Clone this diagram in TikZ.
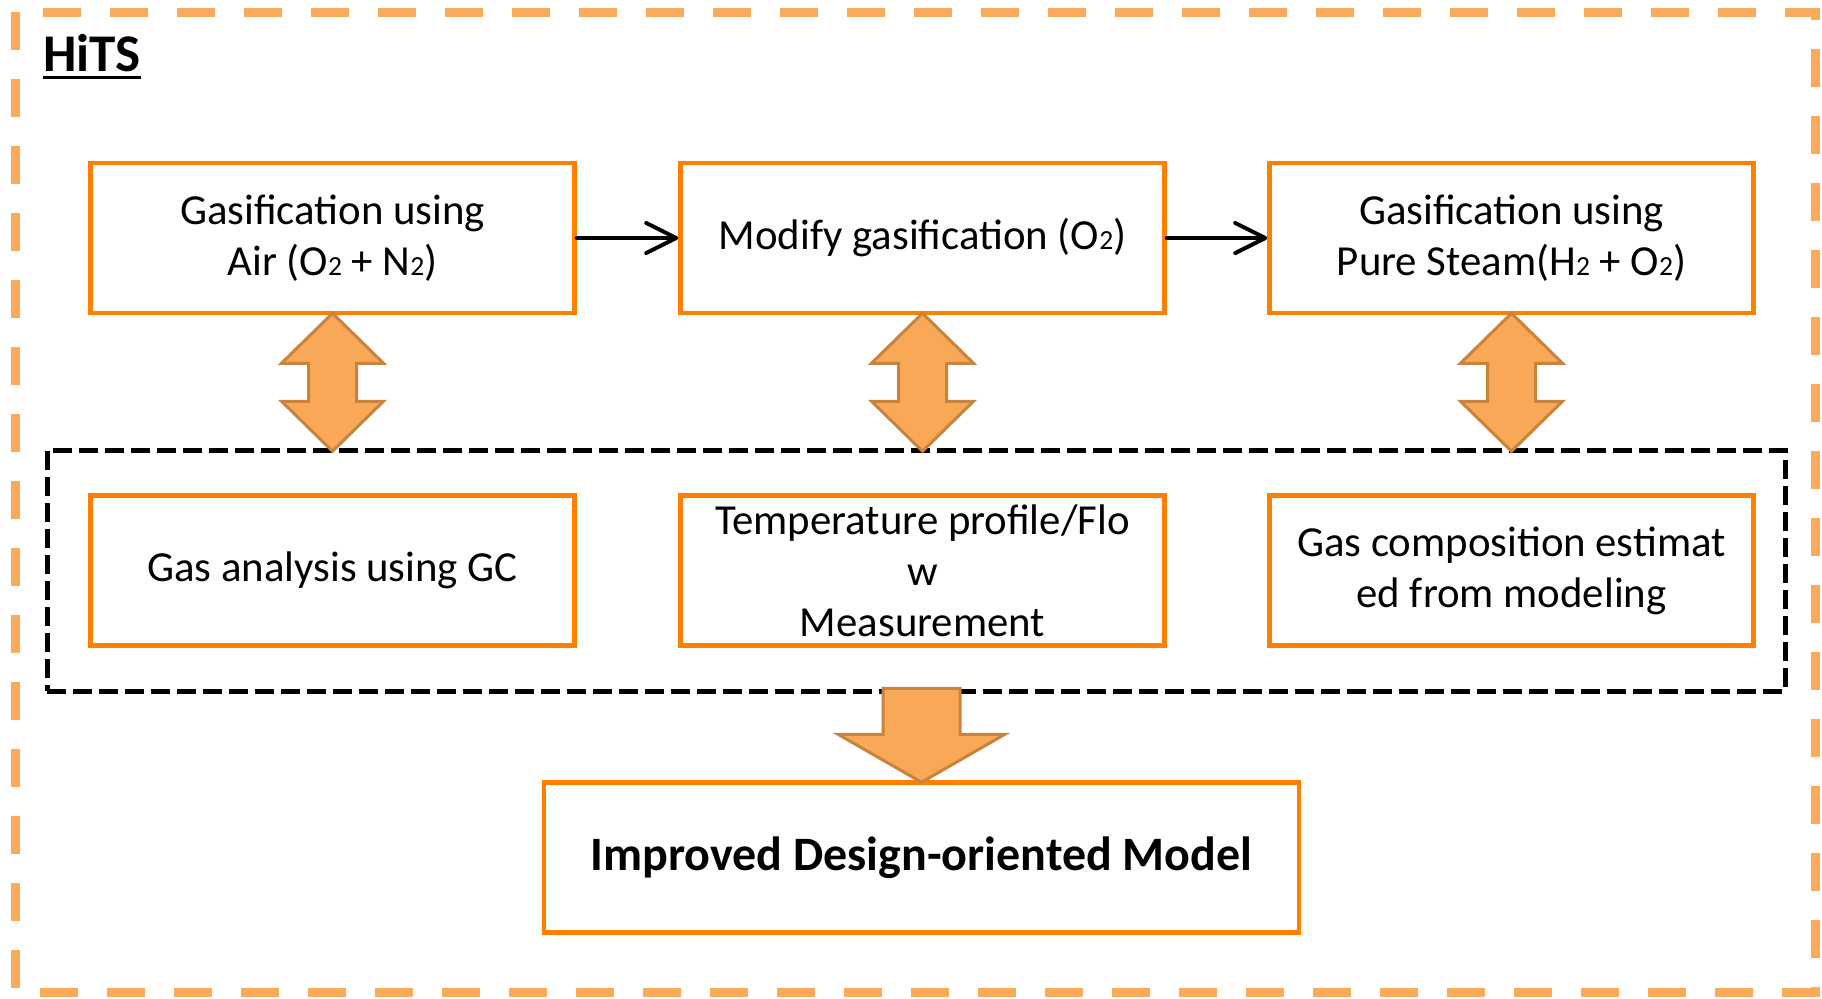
\documentclass[tikz,border=0pt]{standalone}
\usepackage{fontspec}
\setmainfont{Carlito}
\usetikzlibrary{arrows.meta, positioning, calc}
\definecolor{hOrange}{HTML}{FF8000}
\definecolor{hLight}{HTML}{FAAA5A}
\definecolor{hFill}{HTML}{F9A857}
\definecolor{hEdge}{HTML}{C8843C}
\newcommand{\chemsub}[1]{{\fontsize{13.8}{13.8}\selectfont #1}}

\begin{document}
\begin{tikzpicture}[x=0.5pt, y=-0.5pt,
    stagebox/.style={draw=hOrange, line width=2.25pt, fill=white, minimum width=242pt,
      minimum height=75pt, align=center, inner sep=2pt, font=\fontsize{21.4}{25.5}\selectfont},
    flowarrow/.style={line width=2pt, line cap=round, -{Straight Barb[length=15pt, width=15pt, round]}},
    blockarrow/.style={fill=hFill, draw=hEdge, line width=1.5pt, line join=miter}]
    \useasboundingbox (0,0) rectangle (1822,998);
    % frame
    \draw[hLight, line width=4.5pt, dash pattern=on 19pt off 14.5pt] (15,12) rectangle (1815,992);
    \node[anchor=base west, inner sep=0pt, font=\fontsize{26.5}{30}\selectfont\bfseries] (hits) at (43,71) {HiTS};
    \draw[line width=1.5pt] ([yshift=-3pt]hits.base west) -- ([yshift=-3pt]hits.base east);
    % measurement group
    \node[draw, line width=2.5pt, dash pattern=on 9.5pt off 3.5pt, minimum width=869pt,
      minimum height=120.5pt] (grp) at (916,570.5) {};
    % top row
    \node[stagebox] (air) at (332.5,238) {Gasification using\\Air (O\chemsub{2} + N\chemsub{2})};
    \node[stagebox] (modify) at (922.5,238) {Modify gasification (O\chemsub{2})};
    \node[stagebox] (steam) at (1511.5,238) {Gasification using\\Pure Steam(H\chemsub{2} + O\chemsub{2})};
    \draw[flowarrow] (air) -- (modify);
    \draw[flowarrow] (modify) -- (steam);
    % bottom row
    \node[stagebox] (gc) at (332.5,570.5) {Gas analysis using GC};
    \node[stagebox] (temp) at (922.5,570.5) {Temperature profile/Flo\\w\\Measurement};
    \node[stagebox] (comp) at (1511.5,570.5) {Gas composition estimat\\ed from modeling};
    % model
    \node[stagebox, minimum width=377.5pt, font=\fontsize{24}{28}\selectfont\bfseries] (model) at (921.5,857.5) {Improved Design-oriented Model};
    % block arrows
    \foreach \b in {air,modify,steam} {
      \draw[blockarrow] ($(\b.south)+(0,-2)$) -- ++(51,50) -- ++(-27,0) -- ++(0,38) -- ++(27,0)
        -- ++(-51,50) -- ++(-51,-50) -- ++(27,0) -- ++(0,-38) -- ++(-27,0) -- cycle;
    }
    \draw[blockarrow] ($(model.north)+(0,2)$) -- ++(-83.5,-48) -- ++(45,0) -- ++(0,-46)
      -- ++(77,0) -- ++(0,46) -- ++(45,0) -- cycle;
  \end{tikzpicture}
\end{document}
